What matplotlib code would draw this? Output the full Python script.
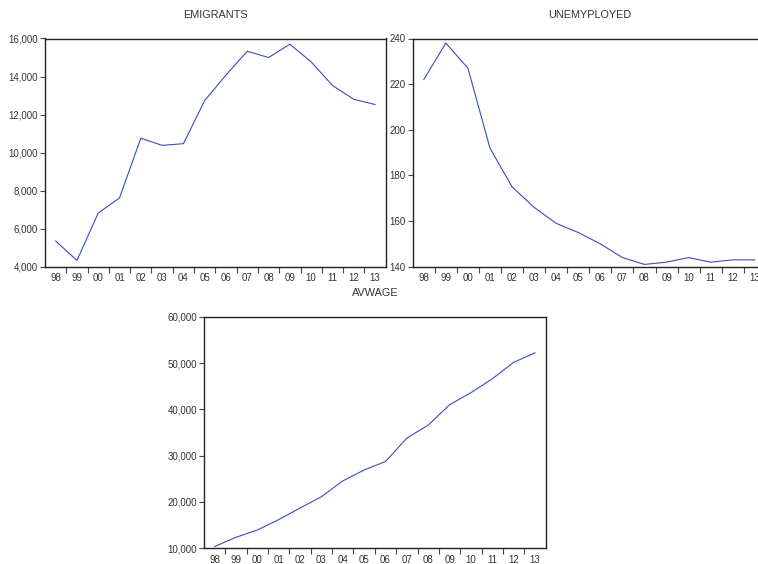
import matplotlib
matplotlib.use("Agg")
import matplotlib.pyplot as plt
from matplotlib.ticker import FuncFormatter
import numpy as np

plt.rcParams['font.family'] = ['Liberation Sans', 'DejaVu Sans']

years = ["98", "99", "00", "01", "02", "03", "04", "05", "06", "07", "08", "09", "10", "11", "12", "13"]
emigrants = [5350, 4330, 6820, 7620, 10760, 10380, 10470, 12740, 14080, 15330, 15000, 15700, 14770, 13530, 12800, 12530]
unemployed = [222, 238, 227, 192, 175, 166, 159, 155, 150, 144, 141, 142, 144, 142, 143, 143]
avwage = [10380, 12380, 13950, 16200, 18700, 21150, 24550, 26900, 28750, 33800, 36600, 41000, 43600, 46600, 50150, 52200]

titles = ["EMIGRANTS", "UNEMYPLOYED", "AVWAGE"]
series = [emigrants, unemployed, avwage]
yticks = [list(range(4000, 16001, 2000)), list(range(140, 241, 20)), list(range(10000, 60001, 10000))]

W, H = 758, 564
fig = plt.figure(figsize=(W / 100, H / 100), dpi=100)

# axes rectangles in pixels: left, top, right, bottom
rects = [(45, 38.5, 385.7, 266.7), (412.7, 38.5, 765.9, 266.7), (204, 316.7, 545.7, 548.3)]
title_y = [15, 15, 292.7]

line_color = "#3a4cbc"
text_color = "#333333"
fmt = FuncFormatter(lambda v, p: f"{int(v):,}")

for i in range(3):
    l, t, r, b = rects[i]
    ax = fig.add_axes([l / W, 1 - b / H, (r - l) / W, (b - t) / H])
    x = np.arange(len(years))
    ax.plot(x, series[i], color=line_color, lw=0.8)
    ax.set_xlim(-0.5, len(years) - 0.5)
    yt = yticks[i]
    ax.set_ylim(yt[0], yt[-1])
    ax.set_yticks(yt)
    ax.yaxis.set_major_formatter(fmt)
    # boundary ticks (no labels) and centered labels (no ticks)
    ax.set_xticks(np.arange(0.5, len(years) - 1, 1.0))
    ax.set_xticklabels([])
    ax.set_xticks(x, years, minor=True)
    ax.tick_params(axis='x', which='major', direction='out', length=4, width=0.8, color='#444444')
    ax.tick_params(axis='x', which='minor', length=0, pad=4.8, labelsize=7, labelcolor=text_color)
    ax.tick_params(axis='y', direction='out', length=3.5, width=0.8, pad=1.5, labelsize=7,
                   labelcolor=text_color, color='#444444')
    for s in ax.spines.values():
        s.set_linewidth(1.0)
        s.set_color('#222222')
    fig.text(((l + r) / 2) / W, 1 - title_y[i] / H, titles[i], ha='center', va='center',
             fontsize=7.8, color=text_color)

fig.savefig("out.png", dpi=100)
